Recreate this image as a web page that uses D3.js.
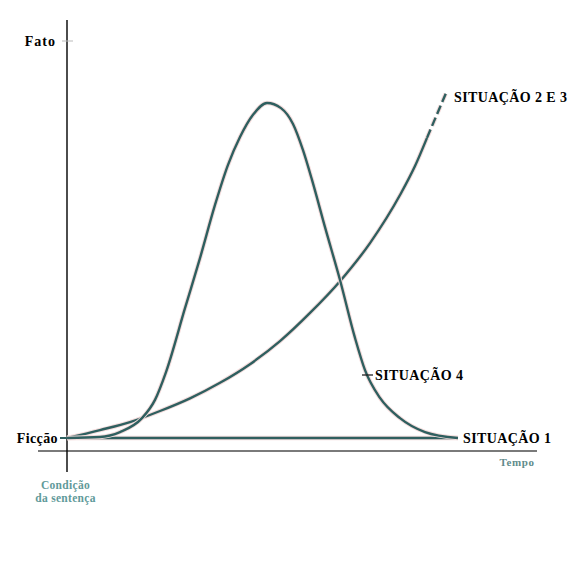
<!DOCTYPE html>
<html>
<head>
<meta charset="utf-8">
<script src="https://cdn.jsdelivr.net/npm/d3@7"></script>
<style>
  body { margin: 0; background: #fff; }
  svg { display: block; }
</style>
</head>
<body>
<svg id="chart" width="585" height="581"></svg>
<script>
// curve values, time (0-100) vs. fact level (0 = Ficção, 100 = Fato)
var sit1 = [[0, 0], [97.75, 0]];
var sit23 = [[0, 0], [8.25, 2.0], [15.75, 4.0], [23.25, 6.8], [30.75, 10.0], [38.25, 13.9],
             [45.75, 18.6], [53.25, 24.4], [60.75, 31.5], [68.25, 39.5], [75.75, 49.1],
             [83.25, 61.2], [87, 68.5], [90, 75.6]];
var sit23dash = [[90, 75.6], [94.75, 86.9]];
var sit4 = [[0, 0], [8.25, 0.25], [13.25, 1.5], [18.75, 5.0], [22, 9.6], [24.75, 16.6],
            [29.5, 32.7], [33.25, 45.3], [37, 58.7], [40.25, 68.8], [43.25, 75.8], [46.5, 81.4],
            [50, 84.4], [53.5, 83.1], [56.5, 79.1], [59, 72.5], [61.25, 65.0], [64.5, 53.1],
            [68.25, 39.8], [72, 25.2], [74.5, 17.1], [78.25, 10.1], [83.25, 5.0], [89.5, 1.5],
            [97.75, 0]];
var yTicks = [{v: 100, label: 'Fato'}, {v: 0, label: 'Ficção'}];

var svg = d3.select('#chart');
var x = d3.scaleLinear().domain([0, 100]).range([67, 467]);
var y = d3.scaleLinear().domain([0, 100]).range([438, 41]);
var teal = '#2f5f5f';
var serif = '"Liberation Serif", "DejaVu Serif", serif';

// gray time axis
svg.append('line')
    .attr('x1', 38).attr('x2', 537)
    .attr('y1', 451).attr('y2', 451)
    .attr('stroke', '#7a7a7a').attr('stroke-width', 2.2);

// vertical axis
svg.append('line')
    .attr('x1', x(0)).attr('x2', x(0))
    .attr('y1', 20).attr('y2', 472)
    .attr('stroke', '#000').attr('stroke-width', 1.4);

// y ticks
svg.append('line')
    .attr('x1', 62).attr('x2', 73)
    .attr('y1', y(100)).attr('y2', y(100))
    .attr('stroke', '#bbb').attr('stroke-width', 1);
svg.append('line')
    .attr('x1', 60).attr('x2', x(0))
    .attr('y1', y(0)).attr('y2', y(0))
    .attr('stroke', teal).attr('stroke-width', 2);

svg.selectAll('.ylab')
    .data(yTicks)
    .enter()
    .append('text')
    .attr('class', 'ylab')
    .attr('x', function(d) { return d.v === 0 ? 58 : 56; })
    .attr('y', function(d) { return y(d.v) + 5; })
    .attr('text-anchor', 'end')
    .style('font-family', serif)
    .style('font-weight', 'bold')
    .style('font-size', '14px')
    .style('letter-spacing', function(d) { return d.v === 0 ? '0.4px' : '1px'; })
    .text(function(d) { return d.label; });

var line = d3.line()
    .x(function(d) { return x(d[0]); })
    .y(function(d) { return y(d[1]); })
    .curve(d3.curveMonotoneX);

function drawCurve(data, width, dash) {
    // faint pinkish halo like the scanned original
    svg.append('path')
        .attr('d', line(data))
        .attr('fill', 'none')
        .attr('stroke', '#f4dcdc')
        .attr('stroke-width', width + 2)
        .attr('stroke-dasharray', dash || null);
    svg.append('path')
        .attr('d', line(data))
        .attr('fill', 'none')
        .attr('stroke', teal)
        .attr('stroke-width', width)
        .attr('stroke-dasharray', dash || null);
}

drawCurve(sit1, 2.6);
drawCurve(sit23, 2.4);
drawCurve(sit23dash, 2.4, '9,4');
drawCurve(sit4, 2.4);

// labels
function label(txt, px, py) {
    svg.append('text')
        .attr('x', px).attr('y', py)
        .style('font-family', serif)
        .style('font-weight', 'bold')
        .style('font-size', '14px')
        .style('letter-spacing', '0.4px')
        .text(txt);
}
label('SITUAÇÃO 2 E 3', 454, 102);
label('SITUAÇÃO 4', 375, 380);
label('SITUAÇÃO 1', 463, 443);

svg.append('line')
    .attr('x1', 362).attr('x2', 373)
    .attr('y1', 375).attr('y2', 375)
    .attr('stroke', '#222').attr('stroke-width', 1.3);

svg.append('text')
    .attr('x', 517).attr('y', 466)
    .attr('text-anchor', 'middle')
    .style('font-family', serif)
    .style('font-weight', 'bold')
    .style('font-size', '11px')
    .style('letter-spacing', '0.6px')
    .style('fill', '#5f8c8c')
    .text('Tempo');

svg.append('text')
    .attr('x', 65.5).attr('y', 489)
    .attr('text-anchor', 'middle')
    .style('font-family', serif)
    .style('font-weight', 'bold')
    .style('font-size', '11.5px')
    .style('letter-spacing', '0.3px')
    .style('fill', '#5f9a9a')
    .selectAll('tspan')
    .data(['Condição', 'da sentença'])
    .enter()
    .append('tspan')
    .attr('x', 65.5)
    .attr('dy', function(d, i) { return i === 0 ? 0 : 13; })
    .text(function(d) { return d; });
</script>
</body>
</html>
